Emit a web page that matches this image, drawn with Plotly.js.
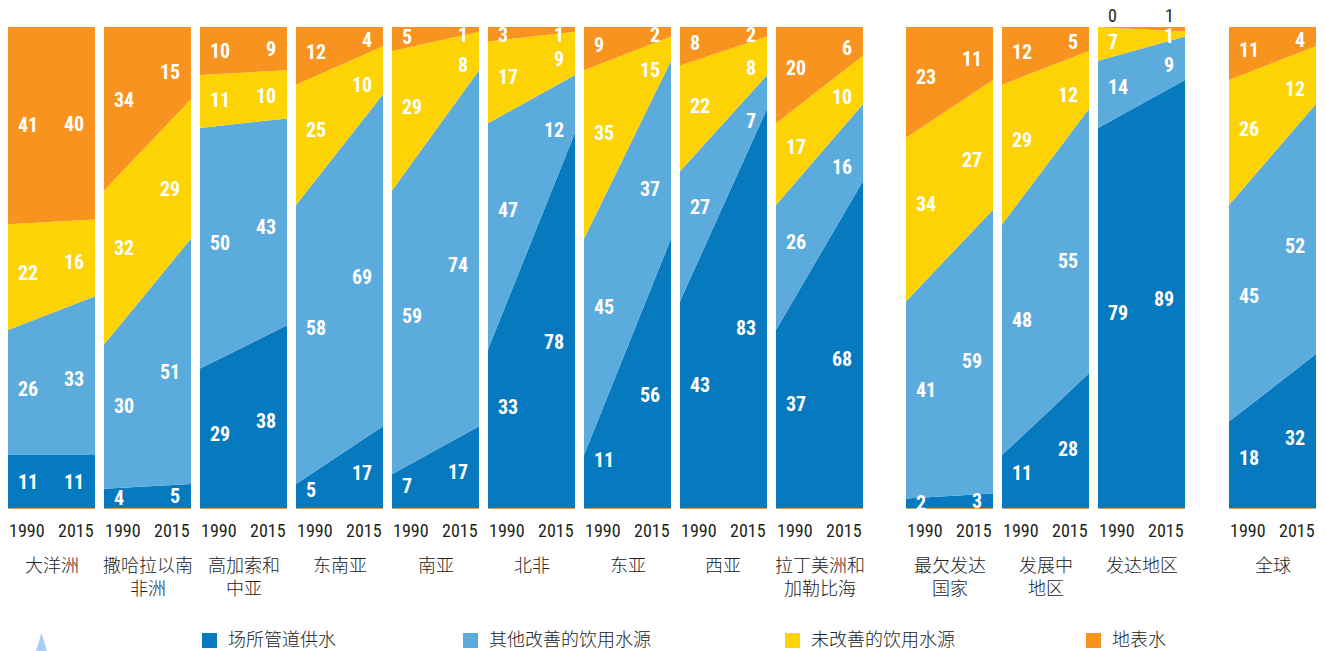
<!DOCTYPE html>
<html>
<head>
<meta charset="utf-8">
<script src="https://cdn.plot.ly/plotly-3.0.1.min.js"></script>
<style>
html,body{margin:0;padding:0;background:#fff;}
#chart{width:1326px;height:651px;}
</style>
</head>
<body>
<div id="chart"></div>
<script>
// ---- data ----
const regions = ['大洋洲','撒哈拉以南<br>非洲','高加索和<br>中亚','东南亚','南亚','北非','东亚','西亚','拉丁美洲和<br>加勒比海','最欠发达<br>国家','发展中<br>地区','发达地区','全球'];
const years = [1990, 2015];
const piped1990   = [11, 4,29, 5, 7,33,11,43,37, 2,11,79,18];
const piped2015   = [11, 5,38,17,17,78,56,83,68, 3,28,89,32];
const other1990   = [26,30,50,58,59,47,45,27,26,41,48,14,45];
const other2015   = [33,51,43,69,74,12,37, 7,16,59,55, 9,52];
const unimp1990   = [22,32,11,25,29,17,35,22,17,34,29, 7,26];
const unimp2015   = [16,29,10,10, 8, 9, 5, 8,10,27,12, 1,12];
const surface1990 = [41,34,10,12, 5, 3, 9, 8,20,23,12, 0,11];
const surface2015 = [40,15, 9, 4, 1, 1, 2, 2, 6,11, 5, 1, 4];
// printed labels where they differ from the drawn value
const unimpLabel2015 = [16,29,10,10, 8, 9,15, 8,10,27,12, 1,12];
const seriesNames = ['场所管道供水','其他改善的饮用水源','未改善的饮用水源','地表水'];
const yearLabels = ['1990','2015'];

// ---- styling / layout ----
const W = 1326, H = 651;
const colors = ['#0679bf','#5cabdd','#fed304','#f7931e'];
const panelLeft = [8,104,200,296,392,488,584,680,776,906,1002,1098,1229];
const panelW = 87;
const plotTop = 27, plotBottom = 508;

const series = [
  {v:[piped1990,piped2015], t:[piped1990,piped2015]},
  {v:[other1990,other2015], t:[other1990,other2015]},
  {v:[unimp1990,unimp2015], t:[unimp1990,unimpLabel2015]},
  {v:[surface1990,surface2015], t:[surface1990,surface2015]}
];

const traces = [];
const annotations = [];
const shapes = [];
const layout = {
  width: W, height: H,
  margin: {l:0, r:0, t:0, b:0},
  paper_bgcolor: '#fff', plot_bgcolor: '#fff',
  showlegend: false,
  yaxis: {domain:[1-plotBottom/H, 1-plotTop/H], range:[0,100], visible:false, fixedrange:true}
};

const condFam = '"Roboto Condensed","Open Sans Condensed",Roboto,sans-serif';
const valFont = {family:condFam, size:20, color:'#fff', weight:700};
const tickFont = {family:condFam, size:18, color:'#231f20'};
const cjkFont = {family:'"Noto Sans CJK SC","Noto Sans",sans-serif', size:18, color:'#222', weight:300};

regions.forEach((name, i) => {
  const ax = i === 0 ? '' : String(i+1);
  const L = panelLeft[i];
  layout['xaxis'+ax] = {
    domain:[L/W, (L+panelW)/W], range:[years[0], years[1]], anchor:'y',
    showgrid:false, zeroline:false, showticklabels:false, ticks:'',
    showline:true, linecolor:'#c9a650', linewidth:1, fixedrange:true
  };
  series.forEach((s, k) => {
    traces.push({
      type:'scatter', x:years, y:[s.v[0][i], s.v[1][i]],
      xaxis:'x'+ax, yaxis:'y', stackgroup:'p'+i, mode:'none',
      fillcolor:colors[k], hoverinfo:'skip', showlegend:false
    });
  });
  const span = years[1]-years[0];
  [0,1].forEach(e => {
    const f = e === 0 ? 0.2 : 0.8;
    let base = 0;
    series.forEach((s, k) => {
      const v = s.v[0][i]*(1-f) + s.v[1][i]*f;
      const mid = Math.min(base + v/2, 98.3);
      base += v;
      const xPos = e === 0 ? years[0] + span*(9/panelW) : years[1] - span*(10/panelW);
      const txt = String(s.t[e][i]);
      if (v < 1) {
        annotations.push({xref:'x'+ax, yref:'paper', x:xPos, y:1-15/H, text:txt, showarrow:false,
          xanchor: e===0?'left':'right', yanchor:'middle', font:tickFont, borderpad:0});
      } else {
        annotations.push({xref:'x'+ax, yref:'y', x:xPos, y:mid, text:txt, showarrow:false,
          xanchor: e===0?'left':'right', yanchor:'middle', font:valFont, borderpad:0});
      }
    });
    annotations.push({xref:'x'+ax, yref:'paper', x:years[e], y:1-530/H, text:yearLabels[e], showarrow:false,
      xanchor: e===0?'left':'right', yanchor:'middle', font:tickFont, borderpad:0});
  });
  annotations.push({xref:'paper', yref:'paper', x:(L+panelW/2)/W, y:1-550/H, text:name,
    showarrow:false, xanchor:'center', yanchor:'top', font:cjkFont, borderpad:0});
});

// legend
const legX = [202, 463, 785, 1086];
seriesNames.forEach((n, k) => {
  shapes.push({type:'rect', xref:'paper', yref:'paper', x0:legX[k]/W, x1:(legX[k]+15)/W,
    y0:1-648/H, y1:1-633/H, fillcolor:colors[k], line:{width:0}});
  annotations.push({xref:'paper', yref:'paper', x:(legX[k]+25)/W, y:1-638/H, text:n, showarrow:false,
    xanchor:'left', yanchor:'middle', font:cjkFont, borderpad:0});
});
// small decorative triangle at lower left
shapes.push({type:'path', xref:'paper', yref:'paper',
  path:`M ${36/W} ${0} L ${41.5/W} ${1-633/H} L ${47/W} ${0} Z`,
  fillcolor:'#a9cdee', line:{width:0}});

layout.annotations = annotations;
layout.shapes = shapes;
Plotly.newPlot('chart', traces, layout, {staticPlot:true, displayModeBar:false});
</script>
</body>
</html>
